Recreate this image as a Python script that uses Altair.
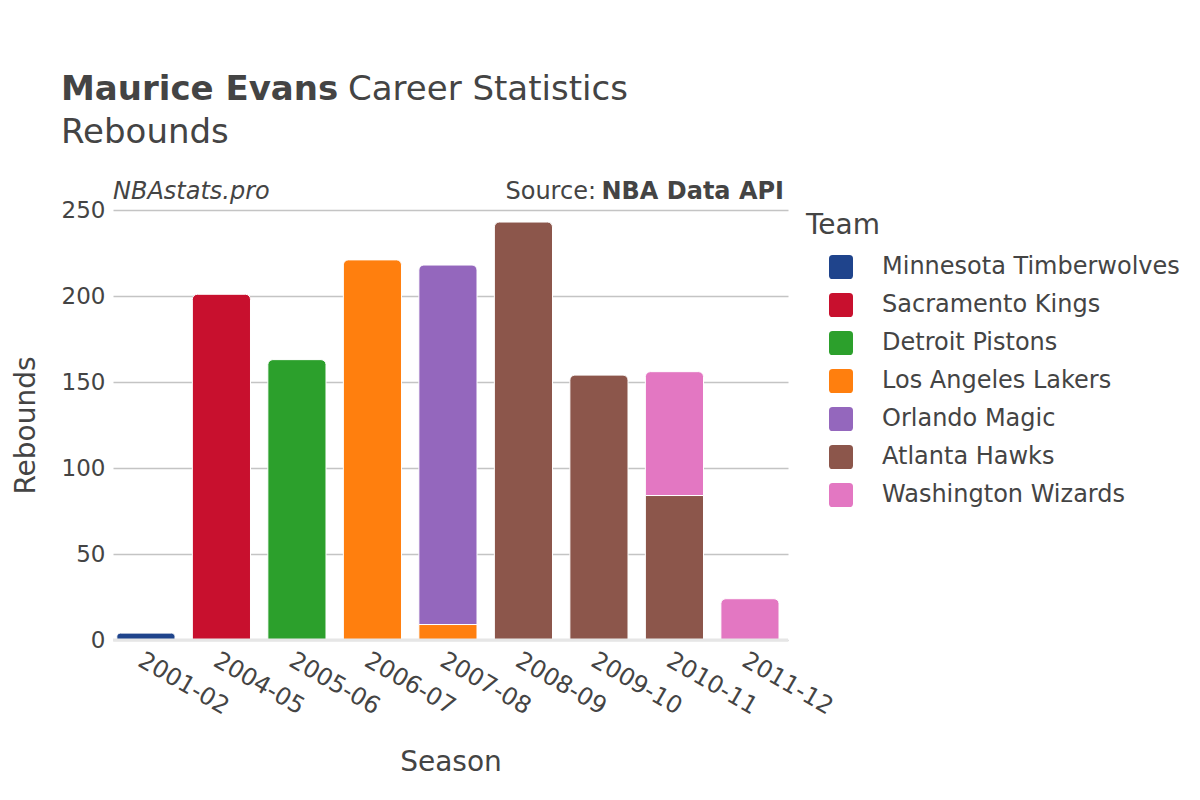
import altair as alt
import pandas as pd

seasons = ["2001-02", "2004-05", "2005-06", "2006-07", "2007-08", "2007-08",
           "2008-09", "2009-10", "2010-11", "2010-11", "2011-12"]
teams = ["Minnesota Timberwolves", "Sacramento Kings", "Detroit Pistons",
         "Los Angeles Lakers", "Los Angeles Lakers", "Orlando Magic",
         "Atlanta Hawks", "Atlanta Hawks", "Atlanta Hawks", "Washington Wizards",
         "Washington Wizards"]
rebounds = [4, 201, 163, 221, 9, 209, 243, 154, 84, 72, 24]
stack_order = [0, 0, 0, 0, 0, 1, 0, 0, 0, 1, 0]
is_top = [1, 1, 1, 1, 0, 1, 1, 1, 0, 1, 1]

season_list = ["2001-02", "2004-05", "2005-06", "2006-07", "2007-08",
               "2008-09", "2009-10", "2010-11", "2011-12"]
team_list = ["Minnesota Timberwolves", "Sacramento Kings", "Detroit Pistons",
             "Los Angeles Lakers", "Orlando Magic", "Atlanta Hawks",
             "Washington Wizards"]
team_colors = ["#1f448c", "#c8102e", "#2ca02c", "#ff7f0e", "#9467bd",
               "#8c564b", "#e377c2"]

df = pd.DataFrame({"Season": seasons, "Team": teams, "Rebounds": rebounds,
                   "ord": stack_order, "top": is_top})

FONT = "DejaVu Sans"
TXT = "#444444"

x_enc = alt.X("Season:N", sort=season_list, title="Season",
              scale=alt.Scale(domain=season_list, paddingInner=0.23,
                              paddingOuter=0.085, align=0.3),
              axis=alt.Axis(labelAngle=30, labelAlign="left", labelBaseline="top",
                            labelFontSize=24, labelColor=TXT, labelPadding=8,
                            titleFontSize=28, titleColor=TXT, titleFontWeight="normal",
                            titlePadding=30, domain=False, ticks=False, grid=False))
y_enc = alt.Y("y1:Q", title="Rebounds",
              scale=alt.Scale(domain=[0, 250], nice=False),
              axis=alt.Axis(values=[0, 50, 100, 150, 200, 250], labelFontSize=23,
                            labelColor=TXT, labelPadding=8, titleFontSize=28,
                            titleColor=TXT, titleFontWeight="normal", titlePadding=21,
                            domain=False, ticks=False, gridColor="#c4c4c4",
                            gridWidth=1.5))
color_enc = alt.Color("Team:N", sort=team_list,
                      scale=alt.Scale(domain=team_list, range=team_colors),
                      legend=alt.Legend(title="Team", orient="none", legendX=693,
                                        legendY=2, titleFontSize=28, titleColor=TXT,
                                        titleFontWeight="normal", labelFontSize=24,
                                        labelColor=TXT, labelOffset=29, labelLimit=0,
                                        symbolType="M -0.7 -1 H 0.7 Q 1 -1 1 -0.7 V 0.7 Q 1 1 0.7 1 H -0.7 Q -1 1 -1 0.7 V -0.7 Q -1 -1 -0.7 -1 Z",
                                        symbolSize=576, symbolStrokeWidth=0,
                                        symbolOpacity=1, symbolOffset=23,
                                        rowPadding=14, titlePadding=15))

base = alt.Chart(df).transform_stack(
    stack="Rebounds", as_=["y0", "y1"], groupby=["Season"],
    sort=[alt.SortField("ord", order="ascending")])

lower = base.transform_filter("datum.top == 0").mark_bar(
    stroke="white", strokeWidth=1).encode(x=x_enc, y=y_enc, y2="y0:Q", color=color_enc)
upper = base.transform_filter("datum.top == 1").mark_bar(
    stroke="white", strokeWidth=1, cornerRadiusTopLeft=5,
    cornerRadiusTopRight=5).encode(x=x_enc, y=y_enc, y2="y0:Q", color=color_enc)

zero = alt.Chart(pd.DataFrame({"z": [0]})).mark_rule(
    color="#e6e6e6", strokeWidth=3).encode(y="z:Q")

def label(text, x, y, size, weight="normal", style="normal", align="left"):
    return alt.Chart(pd.DataFrame({"t": [text]})).mark_text(
        font=FONT, fontSize=size, fontWeight=weight, fontStyle=style,
        align=align, baseline="alphabetic", color=TXT).encode(
        text="t:N", x=alt.value(x), y=alt.value(y))

texts = [
    label("Maurice Evans", -52, -110, 34, weight="bold"),
    label("Career Statistics", 235, -110, 34),
    label("Rebounds", -52, -67, 34),
    label("NBAstats.pro", 0, -11, 24, style="italic"),
    label("Source:", 483, -11, 24, align="right"),
    label("NBA Data API", 671, -11, 24, weight="bold", align="right"),
]

chart = alt.layer(lower, upper, zero, *texts).properties(
    width=675, height=430,
    autosize=alt.AutoSizeParams(type="none"),
    padding={"left": 105, "top": 202, "right": 400, "bottom": 150},
).configure(font=FONT).configure_view(stroke=None)

chart.save("out.html", embed_options={"renderer": "svg", "actions": False})
